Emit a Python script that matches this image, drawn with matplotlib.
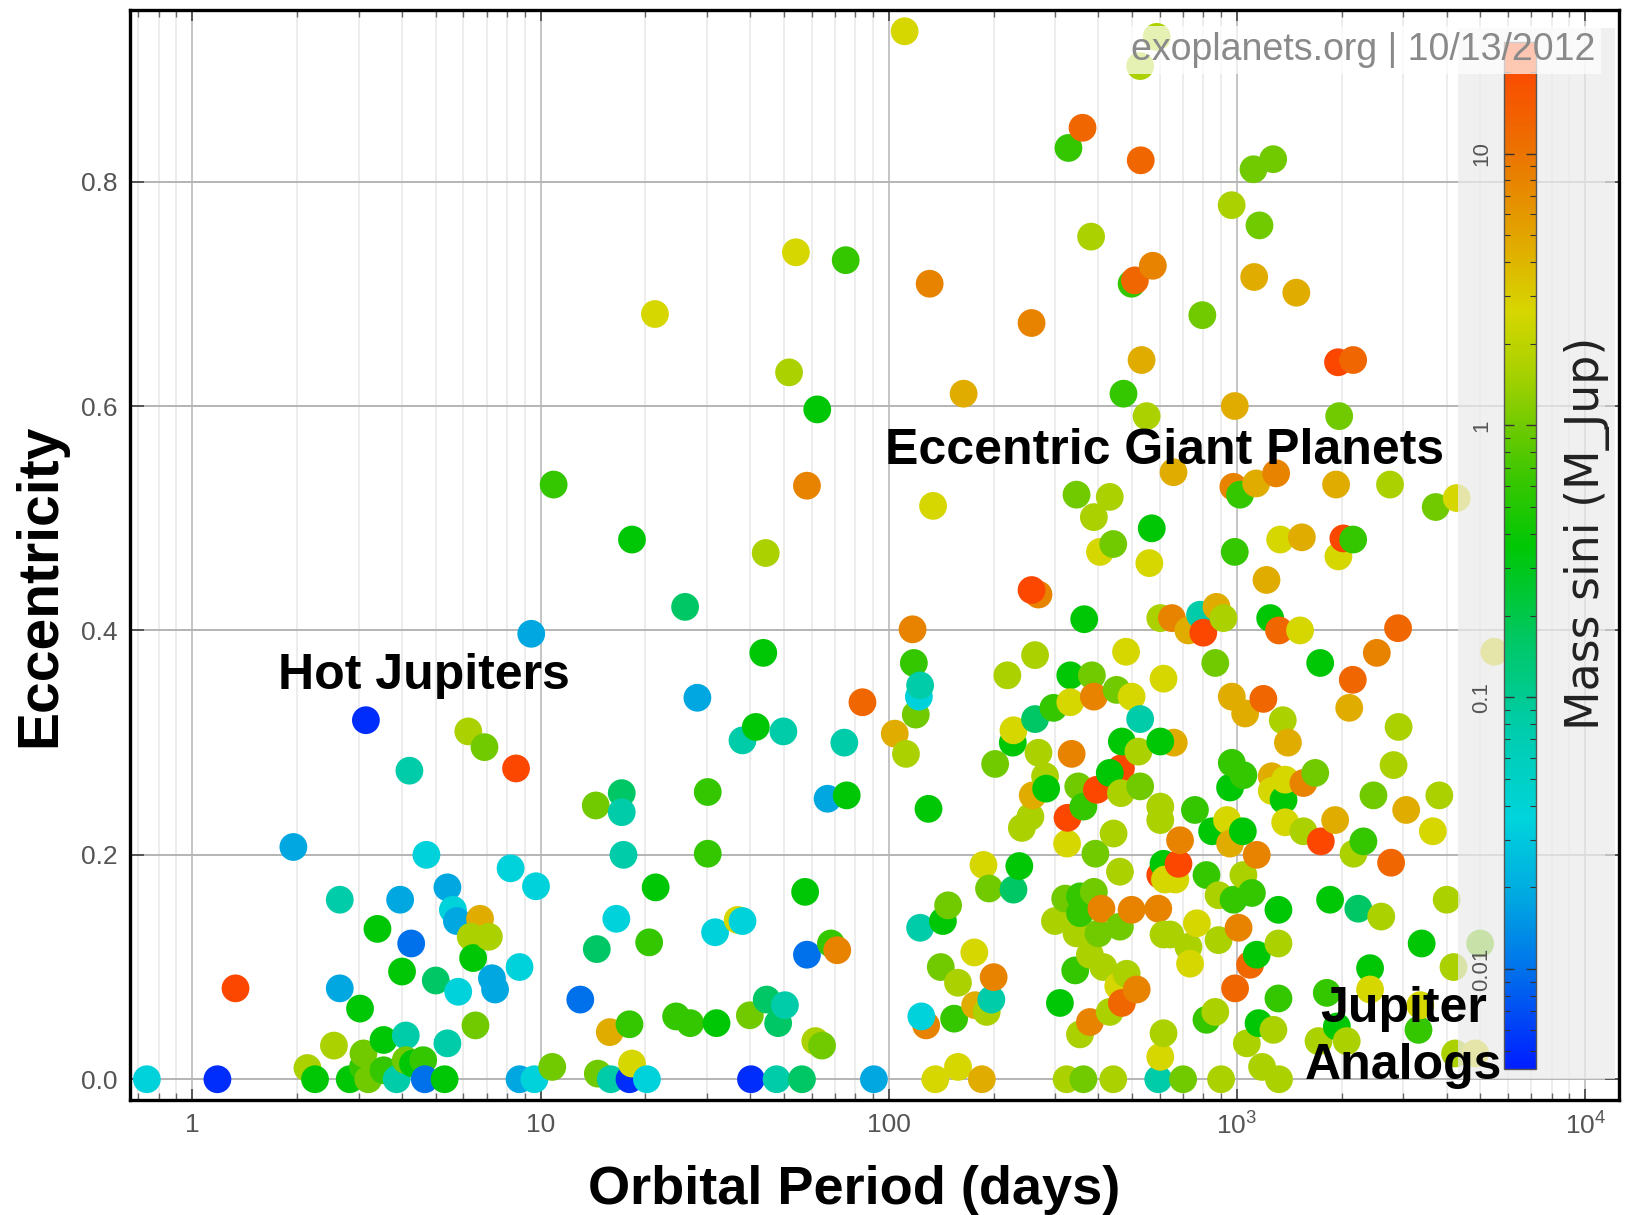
import matplotlib
matplotlib.use("Agg")
import matplotlib.pyplot as plt
import numpy as np
from matplotlib.colors import LinearSegmentedColormap, LogNorm
from matplotlib.patches import Rectangle
from matplotlib.ticker import FixedLocator, NullFormatter, LogLocator, FixedFormatter

plt.rcParams['font.family'] = ['Liberation Sans', 'DejaVu Sans']
plt.rcParams['mathtext.fontset'] = 'custom'
plt.rcParams['mathtext.rm'] = 'Liberation Sans'
plt.rcParams['mathtext.it'] = 'Liberation Sans:italic'
plt.rcParams['mathtext.bf'] = 'Liberation Sans:bold'

# ---------------------------------------------------------------------------
# Planet data: orbital period (days), eccentricity, minimum mass (M_Jup)
# ---------------------------------------------------------------------------
period_short = [0.74, 1.18, 1.33, 1.95, 2.14, 2.25, 2.55, 2.65, 2.65, 2.83,
                3.03, 3.09, 3.1, 3.15, 3.2, 3.4, 3.54, 3.54, 3.86, 3.95,
                4.0, 4.1, 4.1, 4.2, 4.25, 4.3, 4.6, 4.65, 4.7, 5.0,
                5.3, 5.4, 5.4, 5.6, 5.75, 5.8, 6.2, 6.7, 6.3, 6.4,
                6.5, 6.9, 7.1, 7.25, 7.4, 8.2, 8.5, 8.7, 8.7, 9.4,
                9.6, 9.7, 10.8, 13.0, 14.4, 14.5, 14.6, 15.8, 15.9, 16.5,
                17.1, 17.1, 17.3, 18.0, 18.0, 18.3, 20.2, 20.5, 21.4]
ecc_short = [0.0, 0.0, 0.081, 0.207, 0.010, 0.0, 0.030, 0.160, 0.081, 0.0,
             0.063, 0.011, 0.023, 0.320, 0.0, 0.134, 0.035, 0.008, 0.0, 0.160,
             0.096, 0.039, 0.017, 0.275, 0.121, 0.014, 0.017, 0.0, 0.200, 0.088,
             0.0, 0.032, 0.171, 0.151, 0.141, 0.078, 0.310, 0.143, 0.127, 0.108,
             0.048, 0.296, 0.127, 0.090, 0.080, 0.188, 0.277, 0.100, 0.0, 0.397,
             0.0, 0.172, 0.011, 0.071, 0.244, 0.116, 0.005, 0.042, 0.0, 0.143,
             0.255, 0.238, 0.200, 0.049, 0.0, 0.014, 0.0, 0.122, 0.171]
mass_short = [0.035, 0.005, 22, 0.018, 1.6, 0.35, 1.6, 0.08, 0.018, 0.35,
              0.35, 0.6, 1.0, 0.005, 1.0, 0.35, 0.35, 0.6, 0.08, 0.018,
              0.35, 0.08, 1.0, 0.08, 0.01, 0.35, 0.6, 0.01, 0.035, 0.16,
              0.35, 0.08, 0.018, 0.035, 0.018, 0.035, 1.6, 4.5, 1.6, 0.35,
              1.0, 1.0, 1.6, 0.018, 0.018, 0.035, 22, 0.035, 0.018, 0.018,
              0.035, 0.035, 1.0, 0.01, 1.0, 0.16, 1.0, 4.5, 0.08, 0.035,
              0.16, 0.08, 0.08, 0.6, 0.005, 2.6, 0.035, 0.6, 0.35]

period_mid = [10.9, 18.3, 21.3, 24.5, 26.0, 26.9, 28.2, 30.2, 30.2, 31.7,
              32.0, 36.8, 38.0, 38.0, 39.9, 40.2, 41.5, 43.6, 44.3, 44.6,
              47.6, 48.1, 49.8, 50.3, 51.7, 54.1, 56.3, 57.5, 58.2, 58.2,
              61.5, 62.3, 64.3, 66.7, 68.2, 71.1, 74.5, 75.2, 75.7, 84.0,
              90.6]
ecc_mid = [0.530, 0.481, 0.682, 0.056, 0.421, 0.050, 0.340, 0.256, 0.201, 0.131,
           0.050, 0.142, 0.141, 0.302, 0.057, 0.0, 0.314, 0.380, 0.469, 0.071,
           0.0, 0.050, 0.310, 0.066, 0.630, 0.737, 0.0, 0.167, 0.111, 0.529,
           0.034, 0.597, 0.030, 0.250, 0.121, 0.115, 0.300, 0.730, 0.253, 0.336,
           0.0]
mass_mid = [0.6, 0.35, 2.6, 0.6, 0.16, 0.6, 0.018, 0.6, 0.6, 0.035,
            0.35, 2.6, 0.035, 0.08, 1.0, 0.005, 0.35, 0.35, 1.6, 0.16,
            0.08, 0.16, 0.08, 0.08, 1.6, 2.6, 0.16, 0.35, 0.01, 8.0,
            1.6, 0.35, 1.0, 0.018, 0.6, 8.0, 0.08, 0.6, 0.35, 12.6,
            0.018]

period_long = [104, 111, 112, 117, 118, 119.5, 122, 123, 123, 128,
               124, 130, 131, 134, 136, 141, 143, 148, 154, 158,
               158, 164, 176, 177, 185, 187, 191, 194, 197, 200,
               202, 219, 227, 228, 228, 237, 241, 255, 257, 269,
               257, 259, 263, 263, 269, 281, 283, 297, 300, 310,
               321, 324, 325, 326, 328, 332, 332, 335, 343, 346,
               346, 350, 354, 354, 354, 360, 362, 362, 364, 378,
               378, 381, 383, 388, 388, 388, 392, 396, 400, 404,
               408, 413, 464, 431, 431, 431, 441, 441, 442, 451,
               456, 461, 461, 464, 467, 467, 472, 480, 482, 498,
               498, 498, 509, 515, 521, 527, 527, 527, 529, 532,
               550, 560, 569, 573, 588, 594, 594, 602, 650, 658,
               602, 602, 602, 602, 602, 615, 615, 615, 615, 621,
               643, 657, 665, 679, 686, 700, 725, 725, 733, 757,
               767, 783, 795, 800, 817, 817, 848, 866, 866, 873,
               885, 885, 900, 914, 936, 955, 955, 965, 966, 966,
               976, 977, 985, 985, 987]
ecc_long = [0.308, 0.934, 0.290, 0.401, 0.371, 0.325, 0.341, 0.351, 0.135, 0.048,
            0.056, 0.241, 0.709, 0.511, 0.0, 0.100, 0.141, 0.155, 0.054, 0.086,
            0.011, 0.611, 0.113, 0.066, 0.0, 0.191, 0.060, 0.170, 0.071, 0.091,
            0.281, 0.360, 0.300, 0.311, 0.169, 0.190, 0.224, 0.234, 0.674, 0.432,
            0.436, 0.253, 0.378, 0.321, 0.291, 0.270, 0.259, 0.331, 0.141, 0.068,
            0.161, 0.0, 0.210, 0.233, 0.830, 0.360, 0.336, 0.290, 0.097, 0.130,
            0.521, 0.261, 0.163, 0.148, 0.040, 0.848, 0.243, 0.0, 0.410, 0.111,
            0.051, 0.751, 0.360, 0.341, 0.167, 0.501, 0.201, 0.258, 0.130, 0.470,
            0.152, 0.100, 0.277, 0.273, 0.519, 0.060, 0.0, 0.477, 0.219, 0.347,
            0.083, 0.136, 0.185, 0.255, 0.301, 0.068, 0.611, 0.381, 0.094, 0.341,
            0.151, 0.709, 0.712, 0.080, 0.292, 0.321, 0.261, 0.903, 0.819, 0.641,
            0.591, 0.460, 0.491, 0.725, 0.929, 0.152, 0.0, 0.411, 0.411, 0.300,
            0.301, 0.243, 0.231, 0.182, 0.020, 0.357, 0.192, 0.129, 0.041, 0.178,
            0.129, 0.541, 0.178, 0.192, 0.213, 0.0, 0.400, 0.118, 0.103, 0.240,
            0.139, 0.414, 0.681, 0.398, 0.182, 0.053, 0.221, 0.371, 0.060, 0.421,
            0.164, 0.124, 0.0, 0.411, 0.231, 0.260, 0.210, 0.779, 0.341, 0.282,
            0.528, 0.160, 0.600, 0.470, 0.081]
mass_long = [4.5, 2.6, 1.6, 8.0, 0.6, 1.0, 0.035, 0.08, 0.08, 8.0,
             0.035, 0.35, 8.0, 2.6, 2.6, 1.0, 0.35, 1.0, 0.6, 1.6,
             2.6, 4.5, 2.6, 4.5, 4.5, 2.6, 1.6, 1.0, 0.08, 8.0,
             1.0, 1.6, 0.35, 2.6, 0.16, 0.35, 1.6, 1.6, 8.0, 8.0,
             22, 4.5, 1.6, 0.16, 1.6, 1.6, 0.35, 0.6, 1.6, 0.35,
             1.0, 1.6, 2.6, 22, 0.6, 0.35, 2.6, 8.0, 0.6, 1.6,
             1.0, 1.0, 0.6, 0.6, 1.6, 12.6, 0.6, 1.0, 0.35, 1.6,
             8.0, 1.6, 1.0, 8.0, 1.0, 1.6, 1.0, 22, 1.0, 2.6,
             8.0, 1.6, 22, 0.35, 1.6, 1.6, 1.6, 1.0, 1.6, 1.0,
             2.6, 1.0, 1.6, 1.6, 0.35, 12.6, 0.6, 2.6, 1.6, 2.6,
             8.0, 0.6, 12.6, 8.0, 1.6, 0.08, 1.0, 1.6, 12.6, 4.5,
             1.6, 2.6, 0.35, 8.0, 1.6, 8.0, 0.08, 1.6, 8.0, 4.5,
             0.35, 1.6, 1.6, 22, 2.6, 2.6, 0.35, 1.6, 1.6, 2.6,
             1.6, 4.5, 2.6, 22, 8.0, 1.0, 4.5, 1.6, 2.6, 0.6,
             2.6, 0.08, 1.0, 22, 0.6, 0.6, 0.35, 1.0, 1.6, 4.5,
             1.6, 1.6, 1.6, 1.6, 2.6, 0.35, 4.5, 1.6, 4.5, 0.6,
             8.0, 0.6, 4.5, 0.6, 12.6]

period_outer = [1010, 1020, 1039, 1043, 1043, 1055, 1067, 1090, 1103, 1115,
                1120, 1135, 1139, 1139, 1153, 1160, 1180, 1190, 1215, 1245,
                1258, 1258, 1270, 1272, 1295, 1315, 1315, 1315, 1320, 1320,
                1330, 1353, 1360, 1375, 1375, 1400, 1480, 1517, 1535, 1551,
                1551, 1677, 1714, 1733, 1740, 1810, 1850, 1913, 1925, 1935,
                1950, 1955, 1965, 2020, 2065, 2100, 2150, 2155, 2155, 2160,
                2230, 2306, 2410, 2410, 2465, 2520, 2595, 2750, 2770, 2815,
                2900, 2910, 3060, 3320, 3360, 3390, 3650, 3720, 3810, 4000,
                4185, 4230, 4275, 4830, 4990, 5480]
ecc_outer = [0.135, 0.521, 0.221, 0.271, 0.182, 0.326, 0.032, 0.102, 0.166, 0.811,
             0.715, 0.531, 0.200, 0.111, 0.050, 0.761, 0.011, 0.339, 0.445, 0.411,
             0.270, 0.257, 0.820, 0.044, 0.540, 0.151, 0.121, 0.072, 0.400, 0.0,
             0.481, 0.320, 0.249, 0.267, 0.229, 0.300, 0.701, 0.400, 0.483, 0.264,
             0.221, 0.273, 0.034, 0.371, 0.212, 0.077, 0.160, 0.231, 0.530, 0.047,
             0.639, 0.466, 0.591, 0.482, 0.034, 0.331, 0.356, 0.641, 0.481, 0.201,
             0.152, 0.212, 0.099, 0.080, 0.253, 0.380, 0.145, 0.530, 0.193, 0.280,
             0.402, 0.314, 0.240, 0.044, 0.066, 0.121, 0.221, 0.510, 0.253, 0.160,
             0.100, 0.023, 0.518, 0.023, 0.121, 0.381]
mass_outer = [8.0, 0.6, 0.35, 0.6, 1.6, 4.5, 1.6, 12.6, 0.6, 1.0,
              4.5, 4.5, 8.0, 0.35, 0.35, 1.0, 1.6, 12.6, 4.5, 0.35,
              4.5, 2.6, 1.0, 1.6, 8.0, 0.35, 1.6, 0.6, 12.6, 1.6,
              2.6, 1.6, 0.35, 2.6, 2.6, 4.5, 4.5, 2.6, 4.5, 8.0,
              1.6, 1.0, 1.6, 0.35, 22, 0.6, 0.35, 4.5, 4.5, 0.35,
              22, 2.6, 1.0, 22, 1.6, 4.5, 12.6, 12.6, 0.6, 1.6,
              0.16, 0.6, 0.35, 2.6, 1.0, 8.0, 1.6, 1.6, 12.6, 1.6,
              12.6, 1.6, 4.5, 0.6, 2.6, 0.35, 2.6, 1.0, 1.6, 1.6,
              1.6, 1.6, 2.6, 2.6, 1.0, 2.6]

period = period_short + period_mid + period_long + period_outer
ecc = ecc_short + ecc_mid + ecc_long + ecc_outer
mass = mass_short + mass_mid + mass_long + mass_outer

# tick labels
xtick_values = [1, 10, 100, 1000, 10000]
xtick_labels = ['1', '10', '100', r'$10^3$', r'$10^4$']
ytick_values = [0.0, 0.2, 0.4, 0.6, 0.8]
cbar_tick_values = [0.01, 0.1, 1, 10]
cbar_tick_labels = ['0.01', '0.1', '1', '10']

# ---------------------------------------------------------------------------
# Colormap: blue -> cyan -> green -> yellow -> orange -> red (log mass)
# ---------------------------------------------------------------------------
anchors = [(-2.366, (0.00, 0.12, 1.00)),
           (-2.00, (0.00, 0.45, 0.92)),
           (-1.75, (0.00, 0.65, 0.88)),
           (-1.45, (0.00, 0.83, 0.86)),
           (-1.10, (0.00, 0.80, 0.66)),
           (-0.80, (0.00, 0.78, 0.40)),
           (-0.45, (0.00, 0.78, 0.02)),
           (-0.20, (0.22, 0.78, 0.00)),
           (0.00, (0.44, 0.79, 0.00)),
           (0.20, (0.66, 0.82, 0.00)),
           (0.42, (0.84, 0.84, 0.00)),
           (0.65, (0.88, 0.68, 0.00)),
           (0.90, (0.91, 0.52, 0.00)),
           (1.10, (0.94, 0.40, 0.00)),
           (1.412, (1.00, 0.25, 0.00))]
lo, hi = anchors[0][0], anchors[-1][0]
m_lo, m_hi = 10 ** lo, 10 ** hi
cmap = LinearSegmentedColormap.from_list(
    'mass', [((a - lo) / (hi - lo), c) for a, c in anchors])
norm = LogNorm(vmin=m_lo, vmax=m_hi)

# ---------------------------------------------------------------------------
# Figure
# ---------------------------------------------------------------------------
W, H = 1627, 1215
fig = plt.figure(figsize=(W / 100, H / 100), dpi=100)
ax = fig.add_axes([130 / W, 1 - 1100 / H, 1489 / W, 1089.6 / H])
ax.set_zorder(0)

ax.set_xscale('log')
ax.set_xlim(0.662, 12500)
ax.set_ylim(-0.0185, 0.9526)

sc = ax.scatter(period, ecc, c=mass, cmap=cmap, norm=norm, s=400,
                edgecolors='none', zorder=3)

# grid
ax.grid(True, which='major', axis='x', color='#b4b4b4', lw=1.1, zorder=0)
ax.grid(True, which='minor', axis='x', color='#e8e8e8', lw=1.1, zorder=0)
ax.grid(True, which='major', axis='y', color='#b4b4b4', lw=1.4, zorder=0)
ax.set_axisbelow(True)

tick_color = '#555555'
ax.xaxis.set_major_locator(FixedLocator(xtick_values))
ax.xaxis.set_major_formatter(FixedFormatter(xtick_labels))
ax.xaxis.set_minor_locator(LogLocator(base=10, subs=np.arange(2, 10), numticks=20))
ax.xaxis.set_minor_formatter(NullFormatter())
ax.set_yticks(ytick_values)
ax.set_yticklabels([f'{v:.1f}' for v in ytick_values])

ax.tick_params(axis='x', which='major', direction='in', length=8, width=1.2,
               top=True, bottom=True, color='#444444', labelsize=19,
               labelcolor=tick_color, pad=9)
ax.tick_params(axis='x', which='minor', direction='in', length=5, width=1.0,
               top=True, bottom=True, color='#666666')
ax.tick_params(axis='y', which='major', direction='in', length=10, width=1.2,
               left=True, right=True, color='#444444', labelsize=19,
               labelcolor=tick_color, pad=9)

for side in ['left', 'bottom', 'top', 'right']:
    ax.spines[side].set_color('black')
    ax.spines[side].set_linewidth(2.4)

# translucent panel behind the colour bar (above the markers, below the labels)
panel = Rectangle((1458 / W, 1 - 1079 / H), 157 / W, 1051 / H,
                  transform=fig.transFigure, facecolor='#ebebeb', alpha=0.72,
                  edgecolor='none', zorder=5, clip_on=False)
ax.add_patch(panel)

# annotations
bold = dict(fontsize=36, fontweight='bold', color='black', zorder=10)
ax.text(1.76, 0.348, 'Hot Jupiters', ha='left', va='baseline', **bold)
ax.text(97.6, 0.5486, 'Eccentric Giant Planets', ha='left', va='baseline', **bold)
ax.text(3000, 0.0513, 'Jupiter', ha='center', va='baseline', **bold)
ax.text(3000, 0.0, 'Analogs', ha='center', va='baseline', **bold)

# colour bar
cax = fig.add_axes([1503.6 / W, 1 - 1068.8 / H, 32.2 / W, 1027.3 / H])
cax.set_zorder(2)
cb = fig.colorbar(sc, cax=cax)
cb.outline.set_edgecolor('#555555')
cb.outline.set_linewidth(1.0)
cax.yaxis.set_major_locator(FixedLocator(cbar_tick_values))
cax.yaxis.set_major_formatter(FixedFormatter(cbar_tick_labels))
cax.yaxis.set_minor_locator(LogLocator(base=10, subs=np.arange(2, 10), numticks=20))
cax.yaxis.set_minor_formatter(NullFormatter())
cax.tick_params(which='both', direction='in', left=True, right=True,
                labelleft=True, labelright=False, color='#333333')
cax.tick_params(which='major', length=7, width=1.0, labelsize=16,
                labelcolor=tick_color, pad=8)
cax.tick_params(which='minor', length=4, width=0.8)
for lab in cax.get_yticklabels():
    lab.set_rotation(90)
    lab.set_va('center')

fig.text(1587 / W, 1 - 533 / H, 'Mass sini (M_Jup)', rotation=90,
         ha='center', va='center', fontsize=33, color='#222222', zorder=4,
         family=['DejaVu Sans'])

# axis titles
fig.text(854 / W, 11 / H, 'Orbital Period (days)', ha='center',
         va='baseline', fontsize=39, fontweight='bold')
fig.text(40 / W, 1 - 585 / H, 'Eccentricity', rotation=90, ha='center',
         va='center', fontsize=41, fontweight='bold')

# source / date stamp
fig.text(1595 / W, 1 - 50 / H, 'exoplanets.org | 10/13/2012', ha='right',
         va='center', fontsize=27, color='#8a8a8a', zorder=6,
         bbox=dict(boxstyle='square,pad=0.15', facecolor='white',
                   edgecolor='none', alpha=0.7))

fig.savefig('out.png', dpi=100)
